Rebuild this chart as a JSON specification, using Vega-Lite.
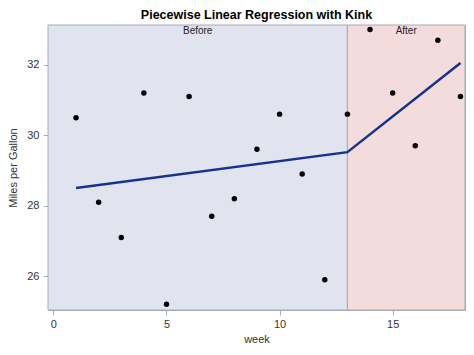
{
  "$schema": "https://vega.github.io/schema/vega-lite/v6.json",
  "width": 417,
  "height": 285,
  "autosize": "none",
  "padding": {"left": 48, "top": 25, "right": 9, "bottom": 45},
  "background": "white",
  "config": {
    "view": {"stroke": "#a8aab4", "strokeWidth": 1},
    "font": "Liberation Sans",
    "axis": {"labelFont": "Liberation Sans", "titleFont": "Liberation Sans", "labelFontSize": 11, "titleFontSize": 11, "labelColor": "#333333", "titleColor": "#333333", "titleFontWeight": "normal", "domain": false, "grid": false, "tickColor": "#a8aab4", "tickSize": 5}
  },
  "title": {"text": "Piecewise Linear Regression with Kink", "fontSize": 12.5, "fontWeight": "bold", "font": "Liberation Sans", "color": "#000000", "offset": 3, "anchor": "middle"},
  "datasets": {
    "regions": [
      {"region": "Before", "start": -0.24, "end": 13},
      {"region": "After", "start": 13, "end": 18.2}
    ],
    "obs": [
      {"week": 1, "mpg": 30.5}, {"week": 2, "mpg": 28.1}, {"week": 3, "mpg": 27.1},
      {"week": 4, "mpg": 31.2}, {"week": 5, "mpg": 25.2}, {"week": 6, "mpg": 31.1},
      {"week": 7, "mpg": 27.7}, {"week": 8, "mpg": 28.2}, {"week": 9, "mpg": 29.6},
      {"week": 10, "mpg": 30.6}, {"week": 11, "mpg": 28.9}, {"week": 12, "mpg": 25.9},
      {"week": 13, "mpg": 30.6}, {"week": 14, "mpg": 33.0}, {"week": 15, "mpg": 31.2},
      {"week": 16, "mpg": 29.7}, {"week": 17, "mpg": 32.7}, {"week": 18, "mpg": 31.1}
    ],
    "fit": [
      {"week": 1, "pred": 28.5}, {"week": 13, "pred": 29.52}, {"week": 18, "pred": 32.05}
    ]
  },
  "layer": [
    {
      "data": {"name": "regions"},
      "mark": {"type": "rect", "stroke": "#a8aab4", "strokeWidth": 1},
      "encoding": {
        "x": {"field": "start", "type": "quantitative", "scale": {"domain": [-0.24, 18.2], "nice": false, "zero": false},
              "axis": {"values": [0, 5, 10, 15], "title": "week", "titlePadding": 4, "labelPadding": 3}},
        "x2": {"field": "end"},
        "fill": {"field": "region", "type": "nominal", "scale": {"domain": ["Before", "After"], "range": ["#e1e4ef", "#f5dcdc"]}, "legend": null}
      }
    },
    {
      "data": {"name": "regions"},
      "transform": [{"calculate": "(datum.start + datum.end) / 2", "as": "mid"}],
      "mark": {"type": "text", "fontSize": 10, "font": "Liberation Sans", "color": "#222222", "baseline": "middle"},
      "encoding": {
        "x": {"field": "mid", "type": "quantitative"},
        "y": {"datum": 32.97, "type": "quantitative"},
        "text": {"field": "region"}
      }
    },
    {
      "data": {"name": "fit"},
      "mark": {"type": "line", "color": "#14338f", "strokeWidth": 2.5},
      "encoding": {
        "x": {"field": "week", "type": "quantitative"},
        "y": {"field": "pred", "type": "quantitative"}
      }
    },
    {
      "data": {"name": "obs"},
      "mark": {"type": "circle", "color": "#000000", "opacity": 1, "size": 30},
      "encoding": {
        "x": {"field": "week", "type": "quantitative"},
        "y": {"field": "mpg", "type": "quantitative", "scale": {"domain": [25.04, 33.13], "nice": false, "zero": false},
              "axis": {"values": [26, 28, 30, 32], "title": "Miles per Gallon", "titlePadding": 8, "labelPadding": 4}}
      }
    }
  ]
}
